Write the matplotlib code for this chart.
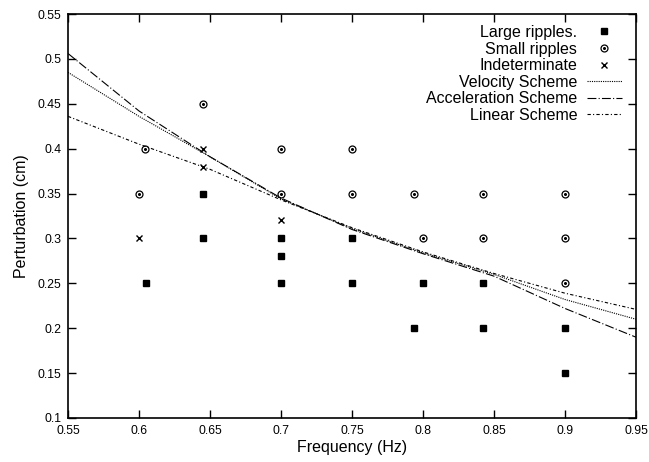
import matplotlib
matplotlib.use("Agg")
import matplotlib.pyplot as plt
from matplotlib.legend_handler import HandlerTuple

plt.rcParams['font.family'] = ['Liberation Sans', 'DejaVu Sans']

# ------------------ Data ------------------
large_f = [0.605, 0.645, 0.645, 0.7, 0.7, 0.7, 0.75, 0.75, 0.8, 0.794, 0.842, 0.842, 0.9, 0.9]
large_p = [0.25, 0.35, 0.30, 0.30, 0.28, 0.25, 0.30, 0.25, 0.25, 0.20, 0.25, 0.20, 0.20, 0.15]

small_f = [0.6, 0.604, 0.645, 0.7, 0.7, 0.75, 0.75, 0.794, 0.8, 0.842, 0.842, 0.9, 0.9, 0.9]
small_p = [0.35, 0.40, 0.45, 0.40, 0.35, 0.40, 0.35, 0.35, 0.30, 0.35, 0.30, 0.35, 0.30, 0.25]

indet_f = [0.6, 0.645, 0.645, 0.7]
indet_p = [0.30, 0.40, 0.38, 0.32]

scheme_f = [0.55, 0.6, 0.65, 0.7, 0.75, 0.8, 0.85, 0.9, 0.95]
velocity_p = [0.485, 0.436, 0.391, 0.344, 0.311, 0.284, 0.260, 0.232, 0.210]
accel_p = [0.506, 0.442, 0.391, 0.345, 0.310, 0.283, 0.258, 0.222, 0.190]
linear_p = [0.436, 0.405, 0.377, 0.343, 0.312, 0.285, 0.261, 0.239, 0.221]

xticks = [0.55, 0.6, 0.65, 0.7, 0.75, 0.8, 0.85, 0.9, 0.95]
xtick_labels = ["0.55", "0.6", "0.65", "0.7", "0.75", "0.8", "0.85", "0.9", "0.95"]
yticks = [0.1, 0.15, 0.2, 0.25, 0.3, 0.35, 0.4, 0.45, 0.5, 0.55]
ytick_labels = ["0.1", "0.15", "0.2", "0.25", "0.3", "0.35", "0.4", "0.45", "0.5", "0.55"]

# ------------------ Plot ------------------
fig = plt.figure(figsize=(6.49, 4.62), dpi=100)
ax = fig.add_axes([68/649, 1-418/462, (636-68)/649, (418-14)/462])

h_large, = ax.plot(large_f, large_p, 's', color='black', markersize=4.3, linestyle='none')
h_circ, = ax.plot(small_f, small_p, 'o', mfc='none', mec='black', mew=0.9,
                  markersize=5, linestyle='none')
h_dot, = ax.plot(small_f, small_p, 'o', color='black', markersize=1.2, linestyle='none')
h_x, = ax.plot(indet_f, indet_p, 'x', color='black', markersize=5, mew=1, linestyle='none')

h_vel, = ax.plot(scheme_f, velocity_p, color='black', lw=0.8, linestyle=(0, (1, 1)))
h_acc, = ax.plot(scheme_f, accel_p, color='black', lw=0.8, linestyle=(0, (8, 2, 1, 2)))
h_lin, = ax.plot(scheme_f, linear_p, color='black', lw=0.8, linestyle=(0, (3, 2, 1, 2)))

ax.set_xlim(0.55, 0.95)
ax.set_ylim(0.1, 0.55)
ax.set_xticks(xticks)
ax.set_xticklabels(xtick_labels)
ax.set_yticks(yticks)
ax.set_yticklabels(ytick_labels)
ax.tick_params(direction='in', length=6, width=1, top=True, right=True, labelsize=8.8, pad=5)
for s in ax.spines.values():
    s.set_linewidth(1.2)

ax.set_xlabel("Frequency (Hz)", fontsize=11.5, labelpad=2)
ax.set_ylabel("Perturbation (cm)", fontsize=11.5, labelpad=6)

leg = ax.legend([h_large, (h_circ, h_dot), h_x, h_vel, h_acc, h_lin],
                ["Large ripples.", "Small ripples", "Indeterminate",
                 "Velocity Scheme", "Acceleration Scheme", "Linear Scheme"],
                handler_map={tuple: HandlerTuple(ndivide=1, pad=0)},
                loc='upper right', bbox_to_anchor=(622/649, 1-25/462),
                bbox_transform=fig.transFigure, frameon=False, markerfirst=False,
                fontsize=11.5, handlelength=2.2, handletextpad=0.6,
                labelspacing=0.1, borderpad=0, borderaxespad=0)

fig.savefig("out.png", dpi=100)
plt.close()
